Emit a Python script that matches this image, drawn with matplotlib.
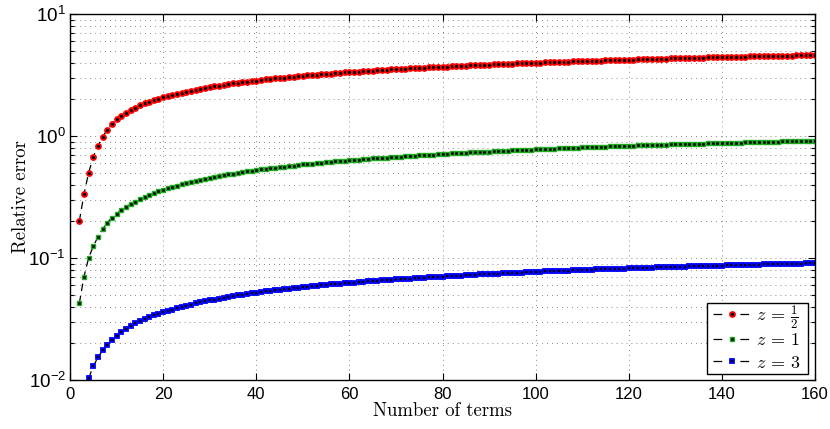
import matplotlib
matplotlib.use("Agg")
import matplotlib.pyplot as plt
from matplotlib.font_manager import FontProperties
from matplotlib.patches import Rectangle
from matplotlib.lines import Line2D
from matplotlib.ticker import LogLocator, NullFormatter, FixedLocator

plt.rcParams['font.family'] = ['Liberation Sans', 'DejaVu Sans']
plt.rcParams['mathtext.fontset'] = 'custom'
plt.rcParams['mathtext.rm'] = 'Liberation Sans'
plt.rcParams['mathtext.it'] = 'Liberation Sans:italic'
plt.rcParams['mathtext.bf'] = 'Liberation Sans:bold'

# ---------------- data ----------------
red_start = 2
red_vals = [
    0.200, 0.333, 0.500, 0.677, 0.830, 0.990, 1.120, 1.250,                      # 2-9
    1.370, 1.465, 1.550, 1.630, 1.710, 1.780, 1.850, 1.910, 1.970, 2.020,      # 10-19
    2.070, 2.123, 2.173, 2.222, 2.269, 2.314, 2.357, 2.399, 2.439, 2.479,      # 20-29
    2.518, 2.555, 2.591, 2.626, 2.661, 2.695, 2.726, 2.757, 2.788, 2.819,      # 30-39
    2.850, 2.878, 2.906, 2.933, 2.961, 2.989, 3.014, 3.040, 3.065, 3.091,      # 40-49
    3.116, 3.139, 3.162, 3.185, 3.208, 3.231, 3.252, 3.273, 3.295, 3.316,      # 50-59
    3.337, 3.357, 3.377, 3.396, 3.416, 3.436, 3.455, 3.473, 3.492, 3.510,      # 60-69
    3.529, 3.546, 3.563, 3.581, 3.598, 3.615, 3.631, 3.648, 3.664, 3.681,      # 70-79
    3.697, 3.712, 3.728, 3.743, 3.759, 3.774, 3.789, 3.804, 3.818, 3.833,      # 80-89
    3.848, 3.862, 3.876, 3.889, 3.903, 3.917, 3.930, 3.944, 3.957, 3.971,      # 90-99
    3.984, 3.997, 4.009, 4.022, 4.034, 4.047, 4.059, 4.071, 4.084, 4.096,      # 100-109
    4.108, 4.120, 4.132, 4.143, 4.155, 4.167, 4.178, 4.189, 4.201, 4.212,      # 110-119
    4.223, 4.234, 4.245, 4.256, 4.267, 4.278, 4.288, 4.299, 4.309, 4.320,      # 120-129
    4.330, 4.340, 4.350, 4.360, 4.370, 4.380, 4.390, 4.400, 4.409, 4.419,      # 130-139
    4.429, 4.439, 4.448, 4.458, 4.467, 4.477, 4.486, 4.495, 4.505, 4.514,      # 140-149
    4.523, 4.532, 4.541, 4.549, 4.558, 4.567, 4.576, 4.584, 4.593, 4.601,      # 150-159
    4.610,                                                                      # 160
]

green_start = 2
green_vals = [
    0.0425, 0.0703, 0.100, 0.125, 0.149, 0.173, 0.195, 0.214,                   # 2-9
    0.231, 0.247, 0.262, 0.276, 0.290, 0.303, 0.316, 0.328, 0.340, 0.351,      # 10-19
    0.361, 0.3715, 0.3817, 0.3915, 0.4010, 0.410, 0.419, 0.428, 0.437, 0.445,  # 20-29
    0.453, 0.461, 0.469, 0.477, 0.485, 0.492, 0.499, 0.506, 0.513, 0.520,      # 30-39
    0.526, 0.532, 0.538, 0.544, 0.550, 0.556, 0.562, 0.567, 0.573, 0.578,      # 40-49
    0.584, 0.589, 0.594, 0.599, 0.604, 0.609, 0.614, 0.618, 0.623, 0.627,      # 50-59
    0.632, 0.636, 0.641, 0.645, 0.650, 0.654, 0.658, 0.662, 0.666, 0.670,      # 60-69
    0.674, 0.678, 0.682, 0.685, 0.689, 0.693, 0.697, 0.701, 0.704, 0.708,      # 70-79
    0.712, 0.716, 0.719, 0.723, 0.726, 0.730, 0.733, 0.736, 0.740, 0.743,      # 80-89
    0.746, 0.749, 0.752, 0.756, 0.759, 0.762, 0.765, 0.768, 0.771, 0.774,      # 90-99
    0.777, 0.780, 0.783, 0.786, 0.789, 0.792, 0.795, 0.797, 0.800, 0.802,      # 100-109
    0.805, 0.808, 0.810, 0.813, 0.815, 0.818, 0.821, 0.823, 0.826, 0.828,      # 110-119
    0.831, 0.833, 0.836, 0.838, 0.841, 0.843, 0.845, 0.847, 0.850, 0.852,      # 120-129
    0.854, 0.856, 0.858, 0.861, 0.863, 0.865, 0.867, 0.869, 0.872, 0.874,      # 130-139
    0.876, 0.878, 0.880, 0.882, 0.884, 0.886, 0.888, 0.890, 0.892, 0.894,      # 140-149
    0.896, 0.898, 0.900, 0.902, 0.904, 0.906, 0.908, 0.910, 0.911, 0.913,      # 150-159
    0.915,                                                                      # 160
]

blue_start = 4
blue_vals = [
    0.0103, 0.0130, 0.0153, 0.0175, 0.0195, 0.0214,                                            # 4-9
    0.0231, 0.0248, 0.0264, 0.0279, 0.0293, 0.0306, 0.0318, 0.0329, 0.0340, 0.0350,            # 10-19
    0.0359, 0.03678, 0.03779, 0.03876, 0.03970, 0.04059, 0.04148, 0.04237, 0.04326, 0.04406,   # 20-29
    0.04485, 0.04564, 0.04643, 0.04722, 0.04802, 0.04871, 0.04940, 0.05009, 0.05079, 0.05148,  # 30-39
    0.05207, 0.05267, 0.05326, 0.05386, 0.05445, 0.05504, 0.05564, 0.05613, 0.05673, 0.05722,  # 40-49
    0.05782, 0.05831, 0.05881, 0.05930, 0.05980, 0.06029, 0.06079, 0.06118, 0.06168, 0.06207,  # 50-59
    0.06257, 0.06296, 0.06346, 0.06386, 0.06435, 0.06475, 0.06514, 0.06554, 0.06593, 0.06633,  # 60-69
    0.06673, 0.06712, 0.06752, 0.06782, 0.06821, 0.06861, 0.06900, 0.06940, 0.06970, 0.07009,  # 70-79
    0.07049, 0.07088, 0.07118, 0.07158, 0.07187, 0.07227, 0.07257, 0.07286, 0.07326, 0.07356,  # 80-89
    0.07385, 0.07415, 0.07445, 0.07484, 0.07514, 0.07544, 0.07574, 0.07603, 0.07633, 0.07663,  # 90-99
    0.07692, 0.07722, 0.07752, 0.07781, 0.07811, 0.07841, 0.07871, 0.07890, 0.07920, 0.07940,  # 100-109
    0.07970, 0.07999, 0.08019, 0.08049, 0.08069, 0.08098, 0.08128, 0.08148, 0.08177, 0.08197,  # 110-119
    0.08227, 0.08247, 0.08276, 0.08296, 0.08326, 0.08346, 0.08366, 0.08385, 0.08415, 0.08435,  # 120-129
    0.08455, 0.08474, 0.08494, 0.08524, 0.08544, 0.08564, 0.08583, 0.08603, 0.08633, 0.08653,  # 130-139
    0.08672, 0.08692, 0.08712, 0.08732, 0.08752, 0.08771, 0.08791, 0.08811, 0.08831, 0.08851,  # 140-149
    0.08870, 0.08890, 0.08910, 0.08930, 0.08950, 0.08969, 0.08989, 0.09009, 0.09019, 0.09039,  # 150-159
    0.09059,                                                                                    # 160
]

series_labels = [r'$z\,=\,\frac{1}{2}$', r'$z\,=\,1$', r'$z\,=\,3$']
x_ticks = [0, 20, 40, 60, 80, 100, 120, 140, 160]
x_label = 'Number of terms'
y_label = 'Relative error'

red_n = list(range(red_start, red_start + len(red_vals)))
green_n = list(range(green_start, green_start + len(green_vals)))
blue_n = list(range(blue_start, blue_start + len(blue_vals)))

# ---------------- figure ----------------
fig = plt.figure(figsize=(8.30, 4.29), dpi=100)
ax = fig.add_axes([70 / 830, 1 - 380 / 429, 745 / 830, 366 / 429])

styles = [
    dict(marker='o', ms=3.6, mfc='k', mec='#ff0000', mew=1.3),
    dict(marker='s', ms=2.4, mfc='k', mec='#22aa22', mew=1.0),
    dict(marker='s', ms=3.4, mfc='k', mec='#0000ff', mew=1.3),
]
dash = (6, 4)
for xs, ys, st, lab in zip([red_n, green_n, blue_n], [red_vals, green_vals, blue_vals],
                           styles, series_labels):
    ax.plot(xs, ys, linestyle='--', dashes=dash, color='k', lw=0.9, label=lab, **st)

ax.set_yscale('log')
ax.set_xlim(0, 160)
ax.set_ylim(1e-2, 1e1)
ax.set_xticks(x_ticks)
ax.yaxis.set_major_locator(FixedLocator([1e-2, 1e-1, 1e0, 1e1]))
ax.yaxis.set_minor_locator(LogLocator(base=10, subs=range(2, 10), numticks=20))
ax.yaxis.set_minor_formatter(NullFormatter())

ax.tick_params(which='both', direction='in', top=True, right=True, width=0.8)
ax.tick_params(which='major', length=5)
ax.tick_params(which='minor', length=3)
ax.tick_params(axis='x', labelsize=12, pad=5)
ax.tick_params(axis='y', labelsize=13.5, pad=3)

grid_ls = (0, (1, 5.5))
ax.grid(True, which='major', axis='both', linestyle=grid_ls, color='#444444', lw=0.55)
ax.grid(True, which='minor', axis='y', linestyle=grid_ls, color='#444444', lw=0.55)

for sp in ax.spines.values():
    sp.set_linewidth(1.0)
    sp.set_color('k')

ax.set_xlabel(x_label, family='cmr10', fontsize=13.5, labelpad=0)
ax.set_ylabel(y_label, family='cmr10', fontsize=13.5, labelpad=-1)

# ---- legend: frame + two frameless legends so rows are evenly spaced ----
leg_handles = [Line2D([], [], linestyle='--', dashes=(7, 14.5), color='k', lw=0.9, **st)
               for st in styles]
leg_prop = FontProperties(size=13, math_fontfamily='cm')
frame = Rectangle((0.855, 0.0164), 0.1356, 0.194, transform=ax.transAxes,
                  facecolor='white', edgecolor='k', lw=1.0, zorder=4.9)
ax.add_patch(frame)
common = dict(prop=leg_prop, frameon=False, handlelength=2.1, handletextpad=0.3,
              borderpad=0.0, borderaxespad=0.0, loc='center left')
leg1 = ax.legend(handles=leg_handles[:1], labels=series_labels[:1],
                 bbox_to_anchor=(0.863, 0.172), labelspacing=0.0, **common)
ax.add_artist(leg1)
leg2 = ax.legend(handles=leg_handles[1:], labels=series_labels[1:],
                 bbox_to_anchor=(0.863, 0.0765), labelspacing=0.3, **common)

fig.savefig('out.png', dpi=100)
